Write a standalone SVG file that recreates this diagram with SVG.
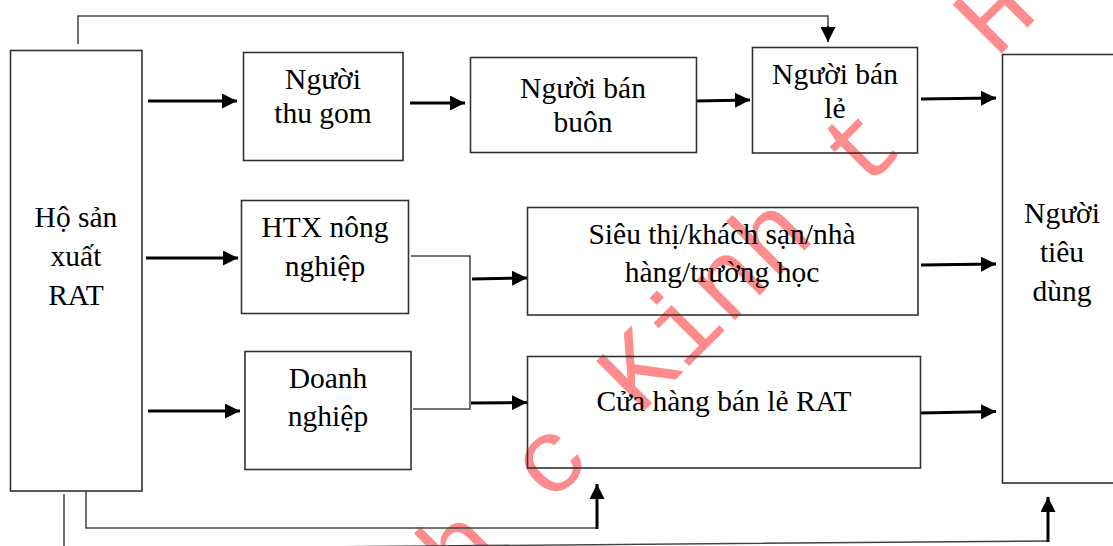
<svg xmlns="http://www.w3.org/2000/svg" width="1113" height="546" viewBox="0 0 1113 546">
<style>
.box{fill:none;stroke:#333;stroke-width:1.6}
.t{font-family:"Liberation Serif","Times New Roman",serif;font-size:29.5px;fill:#000;text-anchor:middle}
.thin{fill:none;stroke:#444;stroke-width:1.5}
.thick{fill:none;stroke:#000;stroke-width:3}
.wm{font-family:"Liberation Mono","Courier New",monospace;font-size:105px;fill:#ff8c8c;white-space:pre}
</style>
<defs>
<marker id="ah" markerUnits="userSpaceOnUse" markerWidth="16" markerHeight="15" refX="15" refY="7.5" orient="auto" viewBox="0 0 16 15">
<path d="M0,0 L15,7.5 L0,15 z" fill="#000"/>
</marker>
</defs>
<rect width="1113" height="546" fill="#fff"/>
<g id="watermark">
<text class="wm" transform="translate(461,594) rotate(-45)" x="0" y="0">h c Kinh t  H</text>
</g>
<g id="connectors">
<polyline class="thin" points="78,44 78,16 828,16 828,28"/>
<line x1="828" y1="26" x2="828" y2="42" stroke="#000" stroke-width="1.5" marker-end="url(#ah)"/>
<line class="thick" x1="148" y1="101" x2="237" y2="101" marker-end="url(#ah)"/>
<line class="thick" x1="410" y1="103" x2="465" y2="103" marker-end="url(#ah)"/>
<line class="thick" x1="697" y1="101" x2="750" y2="100" marker-end="url(#ah)"/>
<line class="thick" x1="921" y1="99" x2="996" y2="98" marker-end="url(#ah)"/>
<line class="thick" x1="146" y1="258" x2="238" y2="258" marker-end="url(#ah)"/>
<line class="thick" x1="148" y1="411" x2="240" y2="411" marker-end="url(#ah)"/>
<polyline class="thin" points="411,256 470,256 470,409 413,409"/>
<line class="thick" x1="472" y1="279" x2="527" y2="278" marker-end="url(#ah)"/>
<line class="thick" x1="471" y1="403" x2="527" y2="402.5" marker-end="url(#ah)"/>
<line class="thick" x1="921" y1="265" x2="996" y2="264" marker-end="url(#ah)"/>
<line class="thick" x1="921" y1="413" x2="996" y2="411.5" marker-end="url(#ah)"/>
<polyline class="thin" points="86,491 86,528 597,528"/>
<line class="thick" x1="597" y1="529" x2="597" y2="484" marker-end="url(#ah)"/>
<polyline class="thin" points="64,494 64,549 1048,541"/>
<line class="thick" x1="1048" y1="542" x2="1048" y2="497" marker-end="url(#ah)"/>
</g>
<g id="ho-san-xuat">
<rect class="box" x="10.5" y="50.5" width="131.5" height="440.5"/>
<text class="t" x="76" y="227">Hộ sản</text>
<text class="t" x="76" y="266">xuất</text>
<text class="t" x="76" y="305">RAT</text>
</g>
<g id="nguoi-thu-gom">
<rect class="box" x="243.5" y="52.5" width="159.5" height="108"/>
<text class="t" x="323" y="89">Người</text>
<text class="t" x="323" y="123">thu gom</text>
</g>
<g id="nguoi-ban-buon">
<rect class="box" x="470.5" y="57.5" width="226" height="95"/>
<text class="t" x="583" y="98">Người bán</text>
<text class="t" x="583" y="132">buôn</text>
</g>
<g id="nguoi-ban-le">
<rect class="box" x="752.5" y="47.5" width="165" height="105.5"/>
<text class="t" x="835" y="84">Người bán</text>
<text class="t" x="835" y="118">lẻ</text>
</g>
<g id="htx">
<rect class="box" x="241.5" y="200.5" width="167" height="113"/>
<text class="t" x="325" y="237">HTX nông</text>
<text class="t" x="325" y="276">nghiệp</text>
</g>
<g id="doanh-nghiep">
<rect class="box" x="245" y="351.5" width="166" height="118"/>
<text class="t" x="328" y="388">Doanh</text>
<text class="t" x="328" y="426">nghiệp</text>
</g>
<g id="sieu-thi">
<rect class="box" x="527.5" y="207.5" width="390.5" height="107.5"/>
<text class="t" x="722" y="244">Siêu thị/khách sạn/nhà</text>
<text class="t" x="722" y="282">hàng/trường học</text>
</g>
<g id="cua-hang">
<rect class="box" x="527.5" y="356.5" width="393" height="111.5"/>
<text class="t" x="724" y="411">Cửa hàng bán lẻ RAT</text>
</g>
<g id="nguoi-tieu-dung">
<rect class="box" x="1002.5" y="54.5" width="200" height="428.5"/>
<text class="t" x="1062" y="223">Người</text>
<text class="t" x="1062" y="262">tiêu</text>
<text class="t" x="1062" y="301">dùng</text>
</g>
</svg>
